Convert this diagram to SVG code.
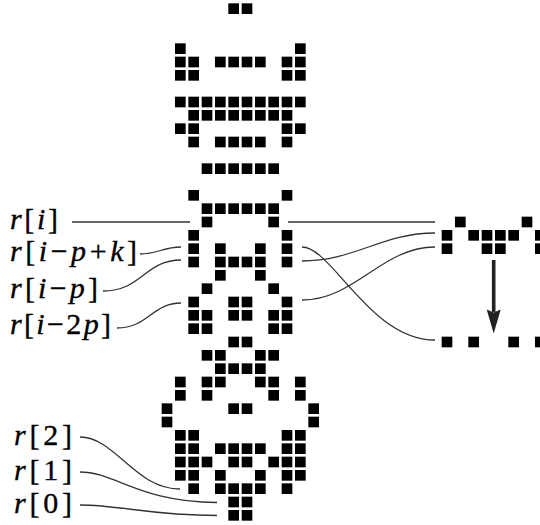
<svg xmlns="http://www.w3.org/2000/svg" width="540" height="525" viewBox="0 0 540 525">
<style>
text{font-family:'Liberation Serif','Times New Roman',Times,serif;font-size:30px;fill:#000;stroke:#000;stroke-width:0.35}
.it{font-style:italic}
.ln{fill:none;stroke:#333;stroke-width:1.3}
.cells use{fill:#000}
</style>
<defs><rect id="c" width="0.8" height="0.8"/></defs>
<rect width="540" height="525" fill="#fff"/>
<g id="main-column" class="cells" transform="translate(161.667 3.333) scale(13.3333)">
<use href="#c" x="5" y="0"/><use href="#c" x="6" y="0"/>
<use href="#c" x="1" y="3"/><use href="#c" x="10" y="3"/>
<use href="#c" x="1" y="4"/><use href="#c" x="2" y="4"/><use href="#c" x="4" y="4"/><use href="#c" x="5" y="4"/><use href="#c" x="6" y="4"/><use href="#c" x="7" y="4"/><use href="#c" x="9" y="4"/><use href="#c" x="10" y="4"/>
<use href="#c" x="1" y="5"/><use href="#c" x="2" y="5"/><use href="#c" x="9" y="5"/><use href="#c" x="10" y="5"/>
<use href="#c" x="1" y="7"/><use href="#c" x="2" y="7"/><use href="#c" x="3" y="7"/><use href="#c" x="4" y="7"/><use href="#c" x="5" y="7"/><use href="#c" x="6" y="7"/><use href="#c" x="7" y="7"/><use href="#c" x="8" y="7"/><use href="#c" x="9" y="7"/><use href="#c" x="10" y="7"/>
<use href="#c" x="2" y="8"/><use href="#c" x="3" y="8"/><use href="#c" x="4" y="8"/><use href="#c" x="5" y="8"/><use href="#c" x="6" y="8"/><use href="#c" x="7" y="8"/><use href="#c" x="8" y="8"/><use href="#c" x="9" y="8"/>
<use href="#c" x="1" y="9"/><use href="#c" x="2" y="9"/><use href="#c" x="9" y="9"/><use href="#c" x="10" y="9"/>
<use href="#c" x="2" y="10"/><use href="#c" x="4" y="10"/><use href="#c" x="5" y="10"/><use href="#c" x="6" y="10"/><use href="#c" x="7" y="10"/><use href="#c" x="9" y="10"/>
<use href="#c" x="3" y="12"/><use href="#c" x="4" y="12"/><use href="#c" x="5" y="12"/><use href="#c" x="6" y="12"/><use href="#c" x="7" y="12"/><use href="#c" x="8" y="12"/>
<use href="#c" x="2" y="14"/><use href="#c" x="9" y="14"/>
<use href="#c" x="3" y="15"/><use href="#c" x="4" y="15"/><use href="#c" x="5" y="15"/><use href="#c" x="6" y="15"/><use href="#c" x="7" y="15"/><use href="#c" x="8" y="15"/>
<use href="#c" x="3" y="16"/><use href="#c" x="8" y="16"/>
<use href="#c" x="2" y="17"/><use href="#c" x="9" y="17"/>
<use href="#c" x="2" y="18"/><use href="#c" x="4" y="18"/><use href="#c" x="7" y="18"/><use href="#c" x="9" y="18"/>
<use href="#c" x="2" y="19"/><use href="#c" x="4" y="19"/><use href="#c" x="5" y="19"/><use href="#c" x="6" y="19"/><use href="#c" x="7" y="19"/><use href="#c" x="9" y="19"/>
<use href="#c" x="4" y="20"/><use href="#c" x="7" y="20"/>
<use href="#c" x="3" y="21"/><use href="#c" x="8" y="21"/>
<use href="#c" x="2" y="22"/><use href="#c" x="5" y="22"/><use href="#c" x="6" y="22"/><use href="#c" x="9" y="22"/>
<use href="#c" x="2" y="23"/><use href="#c" x="3" y="23"/><use href="#c" x="5" y="23"/><use href="#c" x="6" y="23"/><use href="#c" x="8" y="23"/><use href="#c" x="9" y="23"/>
<use href="#c" x="2" y="24"/><use href="#c" x="3" y="24"/><use href="#c" x="8" y="24"/><use href="#c" x="9" y="24"/>
<use href="#c" x="5" y="25"/><use href="#c" x="6" y="25"/>
<use href="#c" x="3" y="26"/><use href="#c" x="4" y="26"/><use href="#c" x="7" y="26"/><use href="#c" x="8" y="26"/>
<use href="#c" x="4" y="27"/><use href="#c" x="5" y="27"/><use href="#c" x="6" y="27"/><use href="#c" x="7" y="27"/>
<use href="#c" x="1" y="28"/><use href="#c" x="3" y="28"/><use href="#c" x="4" y="28"/><use href="#c" x="7" y="28"/><use href="#c" x="8" y="28"/><use href="#c" x="10" y="28"/>
<use href="#c" x="1" y="29"/><use href="#c" x="3" y="29"/><use href="#c" x="8" y="29"/><use href="#c" x="10" y="29"/>
<use href="#c" x="0" y="30"/><use href="#c" x="5" y="30"/><use href="#c" x="6" y="30"/><use href="#c" x="11" y="30"/>
<use href="#c" x="0" y="31"/><use href="#c" x="11" y="31"/>
<use href="#c" x="1" y="32"/><use href="#c" x="2" y="32"/><use href="#c" x="9" y="32"/><use href="#c" x="10" y="32"/>
<use href="#c" x="1" y="33"/><use href="#c" x="2" y="33"/><use href="#c" x="4" y="33"/><use href="#c" x="5" y="33"/><use href="#c" x="6" y="33"/><use href="#c" x="7" y="33"/><use href="#c" x="9" y="33"/><use href="#c" x="10" y="33"/>
<use href="#c" x="1" y="34"/><use href="#c" x="2" y="34"/><use href="#c" x="3" y="34"/><use href="#c" x="5" y="34"/><use href="#c" x="6" y="34"/><use href="#c" x="8" y="34"/><use href="#c" x="9" y="34"/><use href="#c" x="10" y="34"/>
<use href="#c" x="1" y="35"/><use href="#c" x="2" y="35"/><use href="#c" x="4" y="35"/><use href="#c" x="7" y="35"/><use href="#c" x="9" y="35"/><use href="#c" x="10" y="35"/>
<use href="#c" x="2" y="36"/><use href="#c" x="4" y="36"/><use href="#c" x="5" y="36"/><use href="#c" x="6" y="36"/><use href="#c" x="7" y="36"/><use href="#c" x="9" y="36"/>
<use href="#c" x="5" y="37"/><use href="#c" x="6" y="37"/>
<use href="#c" x="5" y="38"/><use href="#c" x="6" y="38"/>
</g>
<g id="side-rows" class="cells" transform="translate(441.667 3.333) scale(13.3333)">
<use href="#c" x="1" y="16"/><use href="#c" x="6" y="16"/>
<use href="#c" x="0" y="17"/><use href="#c" x="2" y="17"/><use href="#c" x="3" y="17"/><use href="#c" x="4" y="17"/><use href="#c" x="5" y="17"/><use href="#c" x="7" y="17"/>
<use href="#c" x="0" y="18"/><use href="#c" x="3" y="18"/><use href="#c" x="4" y="18"/><use href="#c" x="7" y="18"/>
<use href="#c" x="0" y="25"/><use href="#c" x="2" y="25"/><use href="#c" x="5" y="25"/><use href="#c" x="7" y="25"/>
</g>
<g id="arrow">
<rect x="491.9" y="260" width="3.6" height="52" fill="#222"/>
<path d="M486.7,309.5 L493.7,312.5 L500.7,309.5 L493.7,333.5 Z" fill="#222"/>
</g>
<g id="connectors">
<path class="ln" d="M72,222 H190"/>
<path class="ln" d="M288,222 H435"/>
<path class="ln" d="M140,254 C158,254 163,247 181,247"/>
<path class="ln" d="M103,291 C142,291 145,260 181,260"/>
<path class="ln" d="M117,328 C148,328 152,303 181,303"/>
<path class="ln" d="M302,261 C355,261 382,233 435,233"/>
<path class="ln" d="M302,247 C332,247 370,340 435,340"/>
<path class="ln" d="M302,300 C355,300 382,247 435,247"/>
<path class="ln" d="M80,437 C115,437 135,489 180,489"/>
<path class="ln" d="M80,472 C115,472 140,502.5 217,502.5"/>
<path class="ln" d="M80,505 C120,505 150,515.5 217,515.5"/>
</g>
<g id="label-ri"><text x="10" y="229" textLength="48" lengthAdjust="spacing"><tspan class="it">r</tspan>[<tspan class="it">i</tspan>]</text></g>
<g id="label-ripk"><text x="10" y="261" textLength="127" lengthAdjust="spacing"><tspan class="it">r</tspan>[<tspan class="it">i</tspan>−<tspan class="it">p</tspan>+<tspan class="it">k</tspan>]</text></g>
<g id="label-rip"><text x="10" y="298" textLength="88" lengthAdjust="spacing"><tspan class="it">r</tspan>[<tspan class="it">i</tspan>−<tspan class="it">p</tspan>]</text></g>
<g id="label-ri2p"><text x="10" y="334" textLength="101" lengthAdjust="spacing"><tspan class="it">r</tspan>[<tspan class="it">i</tspan>−2<tspan class="it">p</tspan>]</text></g>
<g id="label-r2"><text x="14" y="445" textLength="58" lengthAdjust="spacing"><tspan class="it">r</tspan>[2]</text></g>
<g id="label-r1"><text x="14" y="480" textLength="58" lengthAdjust="spacing"><tspan class="it">r</tspan>[1]</text></g>
<g id="label-r0"><text x="14" y="513" textLength="58" lengthAdjust="spacing"><tspan class="it">r</tspan>[0]</text></g>
</svg>
